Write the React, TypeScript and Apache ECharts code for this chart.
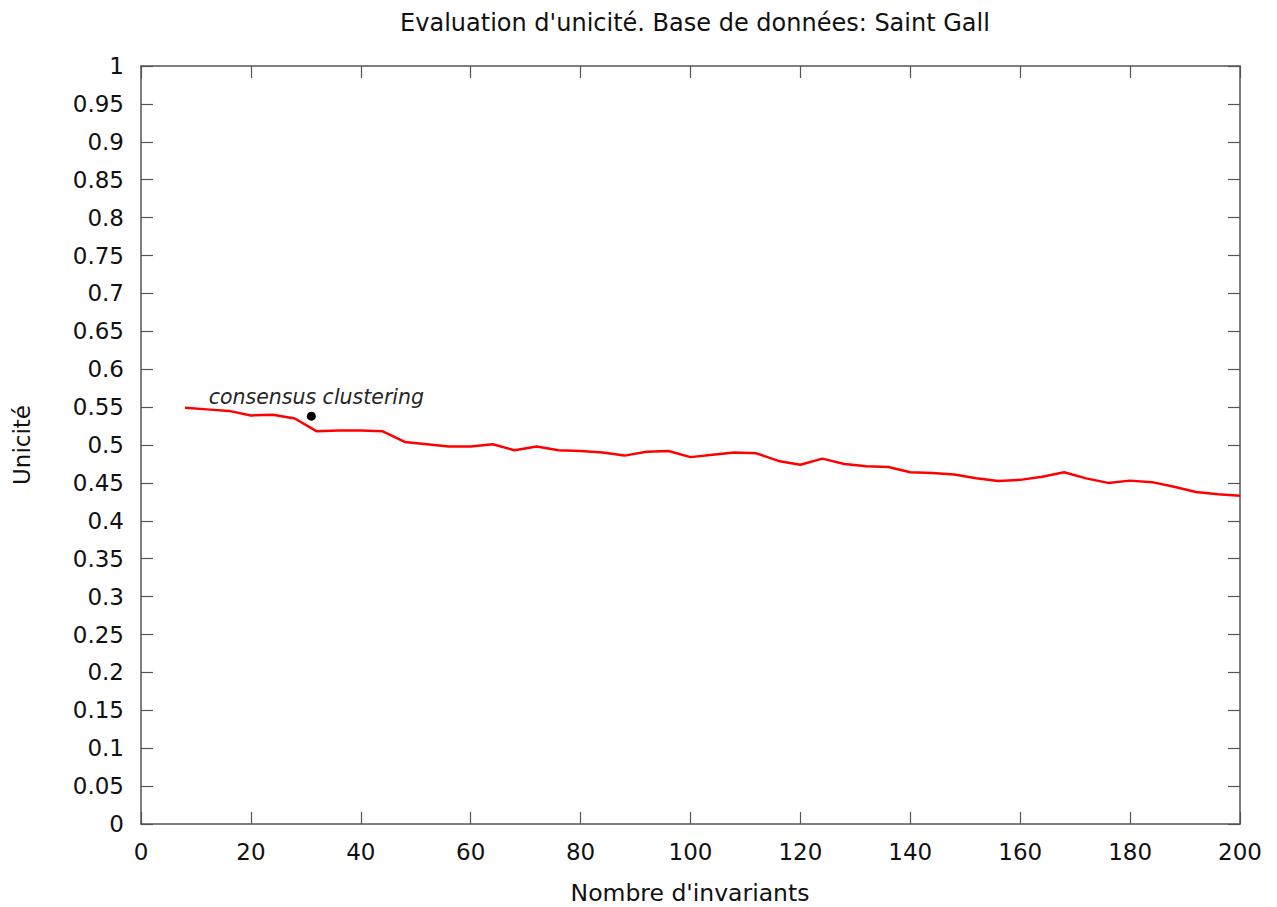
import React, { useEffect, useRef } from "react";
import * as echarts from "echarts";

const invariants = [8, 12, 16, 20, 24, 28, 32, 36, 40, 44, 48, 52, 56, 60, 64, 68, 72, 76, 80, 84, 88, 92, 96, 100, 104, 108, 112, 116, 120, 124, 128, 132, 136, 140, 144, 148, 152, 156, 160, 164, 168, 172, 176, 180, 184, 188, 192, 196, 200];
const unicite = [0.549, 0.547, 0.545, 0.539, 0.540, 0.535, 0.518, 0.519, 0.519, 0.518, 0.504, 0.501, 0.498, 0.498, 0.501, 0.493, 0.498, 0.493, 0.492, 0.490, 0.486, 0.491, 0.492, 0.484, 0.487, 0.490, 0.489, 0.479, 0.474, 0.482, 0.475, 0.472, 0.471, 0.464, 0.463, 0.461, 0.456, 0.4525, 0.454, 0.458, 0.464, 0.456, 0.450, 0.453, 0.451, 0.445, 0.438, 0.435, 0.433];
const consensusPoint = [31, 0.538];
const consensusLabel = "consensus clustering";

const titleText = "Evaluation d'unicité. Base de données: Saint Gall";
const xTitle = "Nombre d'invariants";
const yTitle = "Unicité";

const FONT = "DejaVu Sans";
const AXIS_COLOR = "#555555";
const TEXT_COLOR = "#111111";

export default function App() {
  const ref = useRef<HTMLDivElement>(null);
  useEffect(() => {
    const chart = echarts.init(ref.current!, null, { renderer: "svg" });
    const lineData = invariants.map((x, i) => [x, unicite[i]]);
    const axisLine = { show: true, onZero: false, lineStyle: { color: AXIS_COLOR, width: 1.5 } };
    const axisTick = { show: true, inside: true, length: 12, lineStyle: { color: AXIS_COLOR, width: 1.2 } };
    const xBase = {
      type: "value",
      min: 0,
      max: 200,
      interval: 20,
      splitLine: { show: false },
      axisLine,
      axisTick,
    };
    const yBase = {
      type: "value",
      min: 0,
      max: 1,
      interval: 0.05,
      splitLine: { show: false },
      axisLine,
      axisTick,
    };
    chart.setOption({
      animation: false,
      backgroundColor: "#ffffff",
      textStyle: { fontFamily: FONT },
      title: {
        text: titleText,
        left: 690,
        top: 6,
        textAlign: "center",
        textStyle: { fontFamily: FONT, fontSize: 24, fontWeight: "normal", color: TEXT_COLOR },
      },
      grid: { left: 141, top: 66, width: 1099, height: 758, containLabel: false },
      xAxis: [
        {
          ...xBase,
          position: "bottom",
          axisLabel: { show: true, fontFamily: FONT, fontSize: 23, color: TEXT_COLOR, margin: 16 },
        },
        { ...xBase, position: "top", axisLabel: { show: false } },
      ],
      yAxis: [
        {
          ...yBase,
          position: "left",
          axisLabel: {
            show: true,
            fontFamily: FONT,
            fontSize: 23,
            color: TEXT_COLOR,
            margin: 17,
            formatter: (v: number) => String(Math.round(v * 100) / 100),
          },
        },
        { ...yBase, position: "right", axisLabel: { show: false } },
      ],
      series: [
        {
          type: "line",
          data: lineData,
          xAxisIndex: 0,
          yAxisIndex: 0,
          showSymbol: false,
          symbol: "none",
          lineStyle: { color: "#ff0000", width: 2.5 },
          z: 3,
        },
        {
          type: "scatter",
          data: [consensusPoint],
          xAxisIndex: 0,
          yAxisIndex: 0,
          symbol: "circle",
          symbolSize: 9,
          itemStyle: { color: "#000000", opacity: 1 },
          label: {
            show: true,
            position: "top",
            distance: 5,
            offset: [5, 0],
            formatter: consensusLabel,
            fontFamily: FONT,
            fontStyle: "italic",
            fontSize: 20.5,
            color: "#262626",
          },
          z: 4,
        },
        {
          type: "line",
          data: [],
          xAxisIndex: 1,
          yAxisIndex: 1,
          silent: true,
        },
      ],
      graphic: [
        {
          type: "text",
          x: 690,
          y: 893,
          style: {
            text: xTitle,
            fontFamily: FONT,
            fontSize: 23.5,
            fill: TEXT_COLOR,
            align: "center",
            verticalAlign: "middle",
          },
        },
        {
          type: "text",
          x: 22,
          y: 445,
          rotation: Math.PI / 2,
          style: {
            text: yTitle,
            fontFamily: FONT,
            fontSize: 23,
            fill: TEXT_COLOR,
            align: "center",
            verticalAlign: "middle",
          },
        },
      ],
    });
    return () => chart.dispose();
  }, []);
  return (
    <div
      ref={ref}
      style={{ position: "fixed", left: 0, top: 0, width: 1277, height: 907, background: "#fff" }}
    />
  );
}
